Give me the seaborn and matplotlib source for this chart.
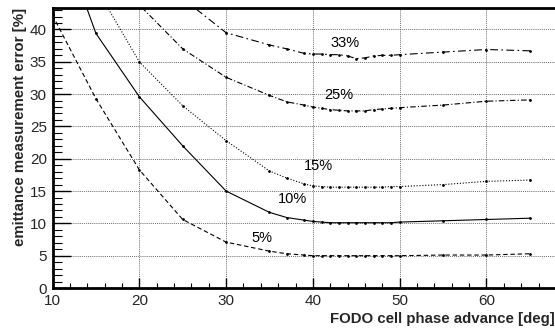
import matplotlib
matplotlib.use("Agg")
import matplotlib.pyplot as plt
import seaborn as sns
import pandas as pd
from matplotlib.ticker import MultipleLocator

# FODO cell phase advance [deg]
phase = [10, 15, 20, 25, 30, 35, 37, 39, 40, 41, 42, 43, 44, 45, 46, 47, 48, 49, 50, 55, 60, 65]

# emittance measurement error [%] for each beam size error level
err_5 = [42.2, 29.3, 18.3, 10.6, 7.1, 5.7, 5.3, 5.1, 5.0, 5.0, 5.0, 5.0, 5.0, 5.0, 5.0, 5.0, 5.0, 5.0, 5.0, 5.1, 5.1, 5.3]
err_10 = [58.0, 39.4, 29.6, 22.0, 15.0, 11.7, 10.9, 10.5, 10.3, 10.2, 10.1, 10.1, 10.1, 10.1, 10.1, 10.1, 10.1, 10.1, 10.2, 10.4, 10.6, 10.8]
err_15 = [62.0, 46.5, 35.0, 28.2, 22.8, 18.1, 17.0, 16.1, 15.8, 15.7, 15.6, 15.6, 15.6, 15.6, 15.6, 15.6, 15.6, 15.7, 15.7, 16.0, 16.5, 16.7]
err_25 = [70.0, 52.0, 43.8, 37.0, 32.6, 29.8, 28.8, 28.3, 28.0, 27.8, 27.6, 27.5, 27.4, 27.4, 27.4, 27.6, 27.7, 27.8, 27.9, 28.3, 28.9, 29.1]
err_33 = [80.0, 60.0, 52.0, 44.8, 39.5, 37.6, 37.0, 36.3, 36.2, 36.2, 36.1, 36.1, 35.9, 35.5, 35.6, 35.9, 36.0, 36.0, 36.1, 36.5, 36.9, 36.7]

levels = ["5%", "10%", "15%", "25%", "33%"]
label_x = [34.1, 37.7, 40.6, 43.0, 43.7]
label_y = [7.7, 13.8, 18.9, 29.9, 37.9]

line_styles = {
    "5%": (0, (4, 2.5)),
    "10%": "-",
    "15%": (0, (1, 1.6)),
    "25%": (0, (5, 2, 1, 2)),
    "33%": (0, (7, 3, 1.5, 3)),
}

sns.set_style("ticks")
plt.rcParams["font.family"] = ["Liberation Sans", "DejaVu Sans"]

fig = plt.figure(figsize=(5.55, 3.32), dpi=100)
ax = fig.add_axes([0.0946, 0.1325, 0.9054, 0.843])

for level, values in zip(levels, [err_5, err_10, err_15, err_25, err_33]):
    df = pd.DataFrame({"phase": phase, "error": values})
    sns.lineplot(data=df, x="phase", y="error", ax=ax, color="black",
                 linewidth=0.8, linestyle=line_styles[level],
                 marker="o", markersize=2.0, markeredgewidth=0, clip_on=True)

for level, tx, ty in zip(levels, label_x, label_y):
    ax.text(tx, ty, level, fontsize=10.5, ha="center", va="center", color="black")

ax.set_xlim(10, 67.9)
ax.set_ylim(0, 43.3)
ax.xaxis.set_major_locator(MultipleLocator(10))
ax.xaxis.set_minor_locator(MultipleLocator(2))
ax.yaxis.set_major_locator(MultipleLocator(5))
ax.yaxis.set_minor_locator(MultipleLocator(1))
ax.grid(True, which="major", linestyle=(0, (1, 1.3)), color="#444444", linewidth=0.6)

ax.tick_params(axis="both", which="both", direction="in", labelsize=11, color="black")
ax.tick_params(axis="x", which="major", length=7, width=1)
ax.tick_params(axis="x", which="minor", length=3.5, width=0.8)
ax.tick_params(axis="y", which="major", length=13, width=1)
ax.tick_params(axis="y", which="minor", length=6.5, width=0.8)
ax.tick_params(axis="x", pad=4)
ax.tick_params(axis="y", pad=4)

for side in ["left", "bottom", "top"]:
    ax.spines[side].set_linewidth(2)
    ax.spines[side].set_color("black")
ax.spines["right"].set_visible(False)

ax.set_xlabel("FODO cell phase advance [deg]", fontsize=10.8, fontweight="bold", loc="right", labelpad=3)
ax.set_ylabel("emittance measurement error [%]", fontsize=10.8, fontweight="bold", loc="top", labelpad=2)

fig.savefig("out.png", dpi=100)
